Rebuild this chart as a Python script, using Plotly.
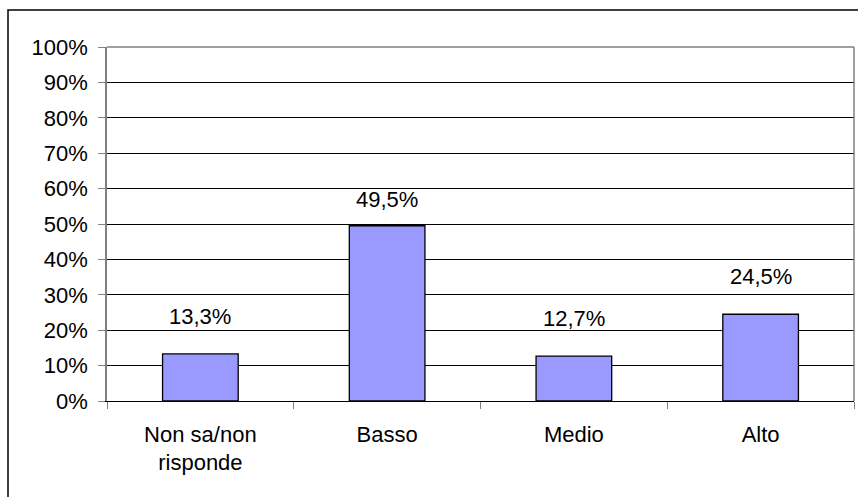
import plotly.graph_objects as go

categories = ["Non sa/non<br>risponde", "Basso", "Medio", "Alto"]
values = [13.3, 49.5, 12.7, 24.5]
tick_vals = [0, 10, 20, 30, 40, 50, 60, 70, 80, 90, 100]
tick_text = ["0%", "10%", "20%", "30%", "40%", "50%", "60%", "70%", "80%", "90%", "100%"]
label_shift = [23, 12, 23, 23]

W, H = 858, 497
ML, MR, MT, MB = 107, 4, 47, 96
pw, ph = W - ML - MR, H - MT - MB
FONT = "Liberation Sans, Arial, sans-serif"

fig = go.Figure()
fig.add_trace(go.Bar(
    x=categories, y=values,
    marker=dict(color="#9999FF", line=dict(color="black", width=1.3)),
    width=0.405,
    hoverinfo="skip",
))

for c, v, s in zip(categories, values, label_shift):
    fig.add_annotation(
        x=c, y=v, xref="x", yref="y",
        text=f"{v:.1f}".replace(".", ",") + "%",
        showarrow=False, yanchor="bottom", yshift=s,
        font=dict(family=FONT, size=22, color="black"),
    )

# outer chart border
fig.add_shape(type="rect", xref="paper", yref="paper",
              x0=(8 - ML) / pw, x1=(862 - ML) / pw,
              y0=(H - MB - 502) / ph, y1=1 + (MT - 10) / ph,
              line=dict(color="black", width=1.5), layer="above")
# plot area frame (top and right, gray)
fig.add_shape(type="line", xref="paper", yref="paper", x0=0, x1=1, y0=1, y1=1,
              line=dict(color="#808080", width=1.5), layer="above")
fig.add_shape(type="line", xref="paper", yref="paper", x0=1, x1=1, y0=0, y1=1,
              line=dict(color="#808080", width=1.5), layer="above")

fig.update_layout(
    width=W, height=H,
    margin=dict(l=ML, r=MR, t=MT, b=MB),
    paper_bgcolor="white", plot_bgcolor="white",
    showlegend=False,
    font=dict(family=FONT, size=22, color="black"),
)
fig.update_yaxes(
    range=[0, 100], tickmode="array", tickvals=tick_vals, ticktext=tick_text,
    showgrid=True, gridcolor="black", gridwidth=1,
    ticks="outside", ticklen=7, tickcolor="#808080",
    showline=True, linecolor="#808080", linewidth=1.5,
    zeroline=False, ticklabelstandoff=6,
)
fig.update_xaxes(
    tickson="boundaries", ticks="outside", ticklen=7, tickcolor="#808080",
    showline=True, linecolor="black", linewidth=1.3,
    showgrid=False, ticklabelstandoff=13,
)

fig.write_html("out.html")
